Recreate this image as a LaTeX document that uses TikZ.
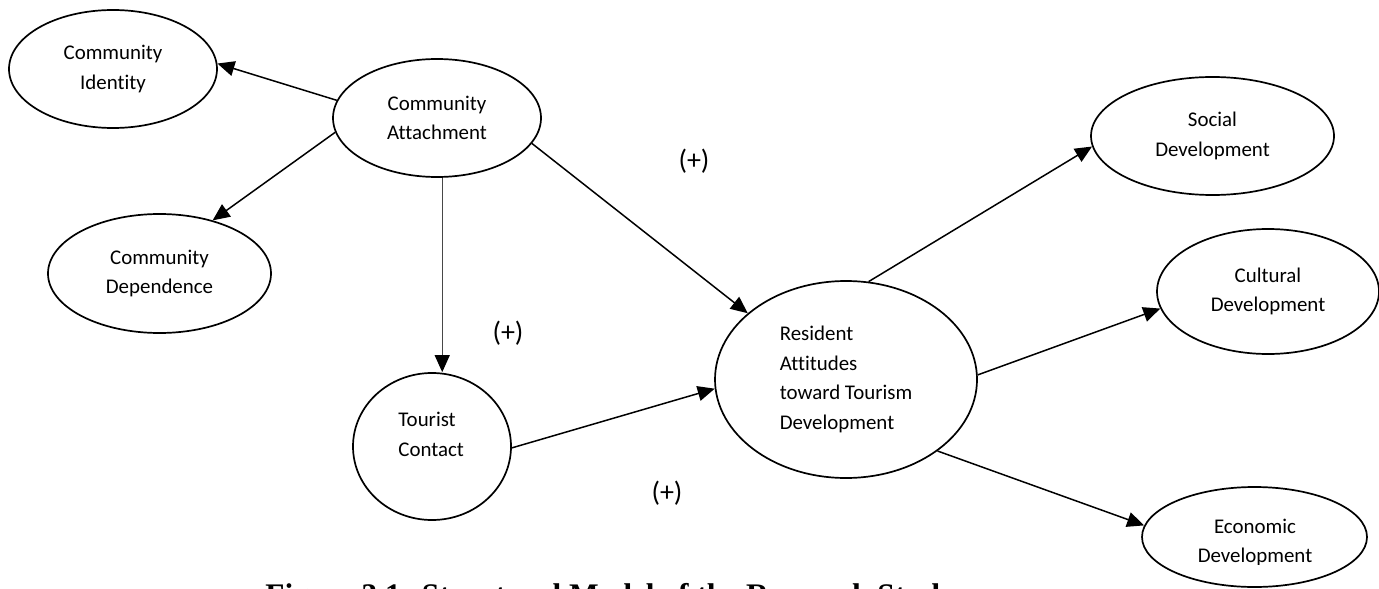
\documentclass[tikz,border=0pt]{standalone}
\usepackage{fontspec}
\setmainfont{Carlito}[Ligatures={NoCommon}]
\newfontfamily\capfont{Liberation Serif}
\usetikzlibrary{shapes.geometric,arrows.meta}

\begin{document}
\begin{tikzpicture}[x=0.5pt,y=-0.5pt,
  construct/.style={draw=black, line width=0.85pt, ellipse, inner sep=0pt,
    font=\fontsize{10.45}{14.75}\selectfont, align=center},
  lbl/.style={font=\fontsize{10.45}{14.75}\selectfont, inner sep=0pt, align=left},
  link/.style={line width=0.75pt, -{Triangle[length=8.5pt,width=7.5pt]}},
  faintlink/.style={draw=black!72, line width=0.6pt,
    -{Triangle[length=8.5pt,width=7.5pt,color=black]}},
  sign/.style={font=\fontsize{14}{16}\selectfont, inner sep=0pt},
  caption/.style={font=\capfont\bfseries\fontsize{15.7}{18}\selectfont, inner sep=0pt}]

\useasboundingbox (0,0) rectangle (1379,588);
\clip (0,0) rectangle (1379,588);

% constructs
\node[construct, minimum width=104pt, minimum height=59pt] (id) at (113,69) {Community\\Identity};
\node[construct, minimum width=104pt, minimum height=59pt] (att) at (437,118) {Community\\Attachment};
\node[construct, minimum width=111.5pt, minimum height=59.5pt] (dep) at (159.5,273.5) {Community\\Dependence};
\node[construct, minimum width=79pt, minimum height=73.5pt] (tc) at (432,446.5) {};
\node[lbl, anchor=west] (tctext) at (398,434.3) {Tourist\\Contact};
\node[construct, minimum width=131pt, minimum height=98.5pt, align=left] (res) at (846,379.5)
  {Resident\\Attitudes\\toward Tourism\\Development};
\node[construct, minimum width=121.5pt, minimum height=59pt] (soc) at (1212.5,136) {Social\\Development};
\node[construct, minimum width=111pt, minimum height=62.5pt] (cul) at (1268,291.5) {Cultural\\Development};
\node[construct, minimum width=112.5pt, minimum height=50pt] (eco) at (1254.5,537) {};
\begin{scope}
  \clip (1100,480) rectangle (1379,564);
  \node[lbl, align=center] (ecotext) at (1255,542.5) {Economic\\Development};
\end{scope}

% paths
\draw[link] (att.170) -- (id.3);
\draw[link] (att.188) -- (dep.45);
\draw[faintlink] (att.-85) -- (att.-85 |- tc.north);
\draw[link] (att.-15) -- (res.146);
\draw[link] (tc.-1) -- (res.184);
\draw[link] (res.77) -- (soc.185);
\draw[link] (res.2) -- (cul.189);
\draw[link] (res.-38) -- (eco.174);

% signs
\node[sign] (s1) at (694,161) {(+)};
\node[sign] (s2) at (508,333) {(+)};
\node[sign] (s3) at (667,493) {(+)};

% caption, running off the lower edge
\node[caption, anchor=base west] (cap) at (265,605) {Figure 3.1: Structural Model of the Research Study};
\end{tikzpicture}
\end{document}
